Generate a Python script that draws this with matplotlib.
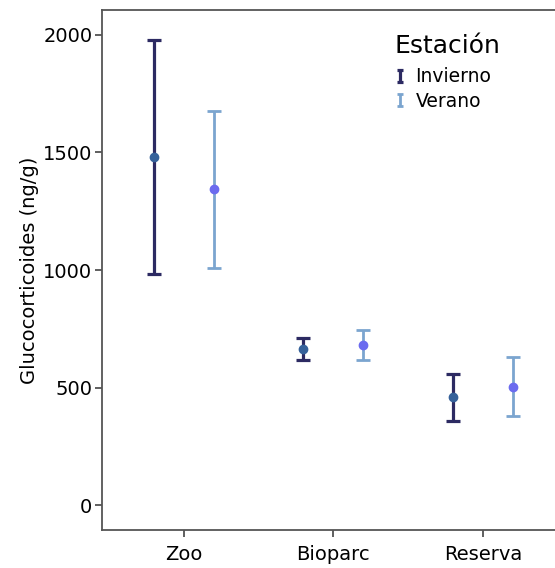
import numpy as np
import matplotlib.pyplot as plt
from matplotlib.lines import Line2D
from matplotlib.path import Path

# data
sitios = ['Zoo', 'Bioparc', 'Reserva']
inv_mean = [1482, 664, 458]
inv_low = [983, 617, 359]
inv_high = [1979, 709, 557]
ver_mean = [1343, 682, 503]
ver_low = [1010, 617, 379]
ver_high = [1678, 745, 629]

c_inv_bar = '#2c2a62'
c_inv_pt = '#35619a'
c_ver_bar = '#7ba5cf'
c_ver_pt = '#6b6bef'

plt.rcParams['font.family'] = ['DejaVu Sans']

fig = plt.figure(figsize=(5.55, 5.68), dpi=100)
ax = fig.add_axes([102/555, 1 - 530/568, 1 - 102/555 + 0.01, 520/568])

x = np.arange(len(sitios))
off = 0.2


def draw(xpos, mean, low, high, cbar, cpt, lw):
    mean = np.array(mean)
    err = np.array([mean - np.array(low), np.array(high) - mean])
    ax.errorbar(xpos, mean, yerr=err, fmt='none', ecolor=cbar,
                elinewidth=lw, capsize=5, capthick=lw, zorder=2)
    ax.plot(xpos, mean, 'o', color=cpt, markersize=6, zorder=3)


draw(x - off, inv_mean, inv_low, inv_high, c_inv_bar, c_inv_pt, 2.3)
draw(x + off, ver_mean, ver_low, ver_high, c_ver_bar, c_ver_pt, 2.0)

ax.set_xlim(-0.547, 2.52)
ax.set_ylim(-106, 2106)
ax.set_xticks(x)
ax.set_xticklabels(sitios, fontsize=14)
ax.set_yticks([0, 500, 1000, 1500, 2000])
ax.tick_params(axis='y', labelsize=14, length=5, width=1.2, color='#444444', pad=2)
ax.tick_params(axis='x', length=5, width=1.2, color='#444444', pad=6)
ax.set_ylabel('Glucocorticoides (ng/g)', fontsize=14, labelpad=3)
ax.spines['right'].set_visible(False)
for s in ['left', 'bottom', 'top']:
    ax.spines[s].set_color('#555555')
    ax.spines[s].set_linewidth(1.3)

# small I-beam marker for the legend
ibeam = Path([(-0.5, -1), (0.5, -1), (0, -1), (0, 1), (-0.5, 1), (0.5, 1)],
             [Path.MOVETO, Path.LINETO, Path.MOVETO, Path.LINETO,
              Path.MOVETO, Path.LINETO])
handles = [Line2D([], [], linestyle='none', marker=ibeam, color=c_inv_bar,
                  markersize=9, markeredgewidth=2.3),
           Line2D([], [], linestyle='none', marker=ibeam, color=c_ver_bar,
                  markersize=9, markeredgewidth=2.0)]
leg = ax.legend(handles, ['Invierno', 'Verano'], title='Estación',
                loc='upper left', bbox_to_anchor=(0.61, 0.98), frameon=False,
                fontsize=13.5, title_fontsize=18, handlelength=0.6,
                handletextpad=0.5, labelspacing=0.3, borderpad=0.2)
leg._legend_box.align = 'left'
leg._legend_box.sep = 7

fig.savefig('out.png', dpi=100)
